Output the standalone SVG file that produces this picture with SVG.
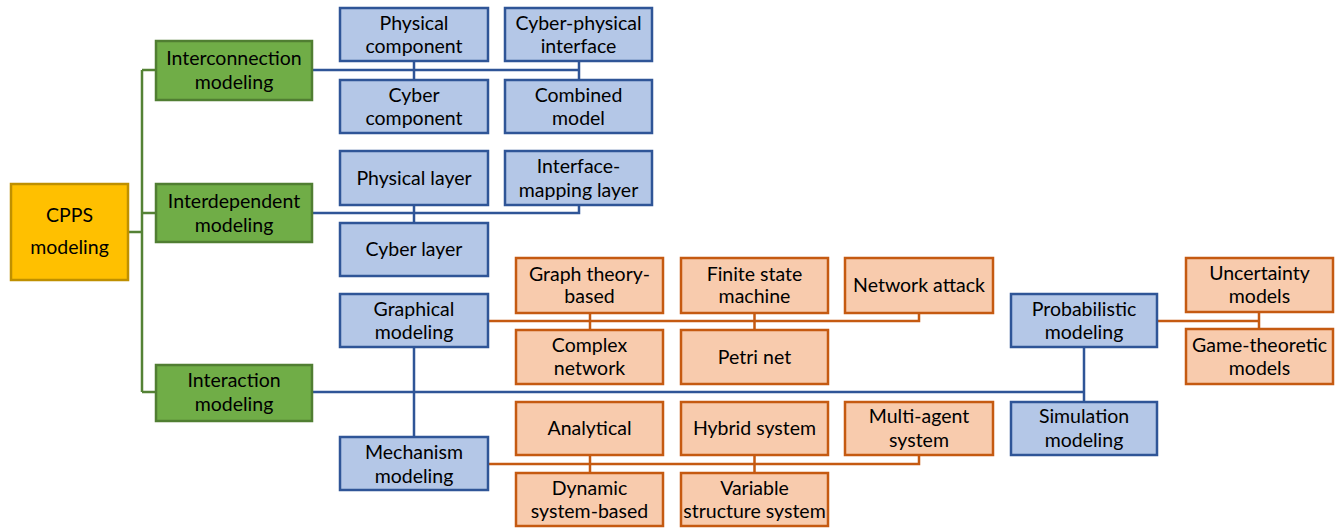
<svg xmlns="http://www.w3.org/2000/svg" width="1341" height="528" viewBox="0 0 1341 528">
<style>
text{font-family:Lato,"Noto Sans","Liberation Sans",sans-serif;font-size:19.5px;fill:#000;text-anchor:middle}
.y{fill:#FFC000;stroke:#BF9000;stroke-width:2.5}
.g{fill:#70AD47;stroke:#507E32;stroke-width:2.5}
.b{fill:#B4C7E7;stroke:#2F5597;stroke-width:2.5}
.o{fill:#F8CBAD;stroke:#C55A11;stroke-width:2.5}
.lg{stroke:#548235;stroke-width:2.5;fill:none}
.lb{stroke:#2F5597;stroke-width:2.5;fill:none}
.lo{stroke:#C55A11;stroke-width:2.5;fill:none}
</style>
<rect width="1341" height="528" fill="#fff"/>
<g id="connectors">
<path class="lg" d="M128 232H142M142 70V392M142 70H156M142 213H156M142 392H156"/>
<path class="lb" d="M312 70H579M414 61V80M579 61V80"/>
<path class="lb" d="M312 213H579V205M414 205V223"/>
<path class="lb" d="M312 392H1084M414 347V437M1084 347V402"/>
<path class="lo" d="M488 321H919V313M590 313V330M754.5 313V330"/>
<path class="lo" d="M488 464H919V455M590 455V473M754.5 455V473"/>
<path class="lo" d="M1157 321H1259M1259 312V329"/>
</g>
<g id="cpps"><rect class="y" x="11" y="184" width="117" height="96"/><text x="69.5" y="222">CPPS</text><text x="69.5" y="254">modeling</text></g>
<g id="interconnection"><rect class="g" x="156" y="41" width="156" height="59"/><text x="234" y="65">Interconnection</text><text x="234" y="89">modeling</text></g>
<g id="interdependent"><rect class="g" x="156" y="184" width="156" height="58"/><text x="234" y="208">Interdependent</text><text x="234" y="232">modeling</text></g>
<g id="interaction"><rect class="g" x="156" y="365" width="156" height="56"/><text x="234" y="387">Interaction</text><text x="234" y="411">modeling</text></g>
<g id="physical-component"><rect class="b" x="340" y="8" width="148" height="53"/><text x="414" y="30">Physical</text><text x="414" y="53">component</text></g>
<g id="cyber-physical-interface"><rect class="b" x="505" y="8" width="147" height="53"/><text x="578.5" y="30">Cyber-physical</text><text x="578.5" y="53">interface</text></g>
<g id="cyber-component"><rect class="b" x="340" y="80" width="148" height="53"/><text x="414" y="102">Cyber</text><text x="414" y="125">component</text></g>
<g id="combined-model"><rect class="b" x="505" y="80" width="147" height="53"/><text x="578.5" y="102">Combined</text><text x="578.5" y="125">model</text></g>
<g id="physical-layer"><rect class="b" x="340" y="151" width="148" height="54"/><text x="414" y="185">Physical layer</text></g>
<g id="interface-mapping-layer"><rect class="b" x="505" y="151" width="147" height="54"/><text x="578.5" y="173">Interface-</text><text x="578.5" y="197">mapping layer</text></g>
<g id="cyber-layer"><rect class="b" x="340" y="223" width="148" height="53"/><text x="414" y="256">Cyber layer</text></g>
<g id="graphical-modeling"><rect class="b" x="340" y="294" width="148" height="53"/><text x="414" y="316">Graphical</text><text x="414" y="339">modeling</text></g>
<g id="mechanism-modeling"><rect class="b" x="340" y="437" width="148" height="53"/><text x="414" y="459">Mechanism</text><text x="414" y="483">modeling</text></g>
<g id="graph-theory-based"><rect class="o" x="516" y="258" width="147" height="55"/><text x="589.5" y="281">Graph theory-</text><text x="589.5" y="303">based</text></g>
<g id="finite-state-machine"><rect class="o" x="681" y="258" width="147" height="55"/><text x="754.5" y="281">Finite state</text><text x="754.5" y="303">machine</text></g>
<g id="network-attack"><rect class="o" x="845" y="258" width="148" height="55"/><text x="919" y="292">Network attack</text></g>
<g id="complex-network"><rect class="o" x="516" y="330" width="147" height="54"/><text x="589.5" y="352">Complex</text><text x="589.5" y="375">network</text></g>
<g id="petri-net"><rect class="o" x="681" y="330" width="147" height="54"/><text x="754.5" y="364">Petri net</text></g>
<g id="analytical"><rect class="o" x="516" y="402" width="147" height="53"/><text x="589.5" y="435">Analytical</text></g>
<g id="hybrid-system"><rect class="o" x="681" y="402" width="147" height="53"/><text x="754.5" y="435">Hybrid system</text></g>
<g id="multi-agent-system"><rect class="o" x="845" y="402" width="148" height="53"/><text x="919" y="423">Multi-agent</text><text x="919" y="447">system</text></g>
<g id="dynamic-system-based"><rect class="o" x="516" y="473" width="147" height="53"/><text x="589.5" y="495">Dynamic</text><text x="589.5" y="518">system-based</text></g>
<g id="variable-structure-system"><rect class="o" x="681" y="473" width="147" height="53"/><text x="754.5" y="495">Variable</text><text x="754.5" y="518">structure system</text></g>
<g id="probabilistic-modeling"><rect class="b" x="1011" y="294" width="146" height="53"/><text x="1084" y="316">Probabilistic</text><text x="1084" y="339">modeling</text></g>
<g id="simulation-modeling"><rect class="b" x="1011" y="402" width="146" height="53"/><text x="1084" y="423">Simulation</text><text x="1084" y="447">modeling</text></g>
<g id="uncertainty-models"><rect class="o" x="1186" y="258" width="147" height="54"/><text x="1259.5" y="280">Uncertainty</text><text x="1259.5" y="303">models</text></g>
<g id="game-theoretic-models"><rect class="o" x="1186" y="329" width="147" height="55"/><text x="1259.5" y="352">Game-theoretic</text><text x="1259.5" y="375">models</text></g>
</svg>
